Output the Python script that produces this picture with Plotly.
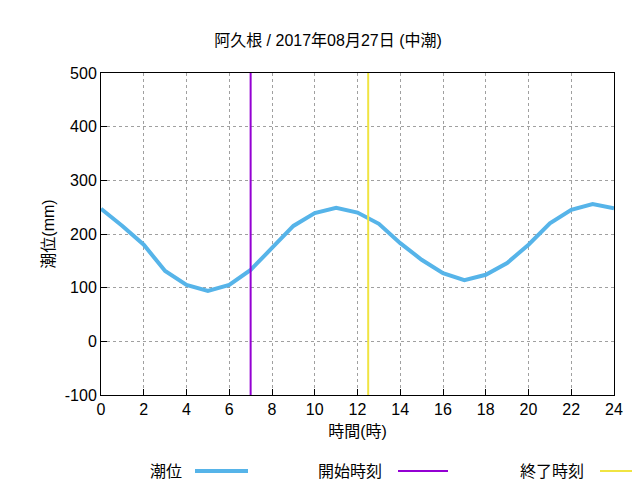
import plotly.graph_objects as go

hours = list(range(25))
tide = [247, 215, 180, 131, 105, 94, 105, 133, 174, 215, 239, 249, 240, 219, 183, 152, 127, 114, 124, 146, 180, 220, 245, 256, 248]
start_time = 7
end_time = 12.5
title = "阿久根 / 2017年08月27日 (中潮)"
labels = ["潮位", "開始時刻", "終了時刻"]
colors = ["#56B4E9", "#9400D3", "#F0E442"]
ytick_vals = list(range(-100, 501, 100))
ytick_text = [str(v).replace("−", "-") for v in ytick_vals]

F = "Liberation Sans, Noto Sans CJK JP"
fig = go.Figure()
fig.add_trace(go.Scatter(x=hours, y=tide, mode="lines", line=dict(color=colors[0], width=4), showlegend=False))
fig.add_trace(go.Scatter(x=[start_time, start_time], y=[-100, 500], mode="lines", line=dict(color=colors[1], width=2), showlegend=False))
fig.add_trace(go.Scatter(x=[end_time, end_time], y=[-100, 500], mode="lines", line=dict(color=colors[2], width=2), showlegend=False))

def px2x(p): return (p - 93) / 513
def py2y(p): return (387 - p) / 322

shapes = []
annotations = []
legend_pos = [(176, 187, 240), (376, 390, 440), (578, 592, 640)]
for lab, col, (tx, s0, s1) in zip(labels, colors, legend_pos):
    annotations.append(dict(x=px2x(tx), y=py2y(463), xref="paper", yref="paper", text=lab,
                            showarrow=False, xanchor="right", yanchor="middle", font=dict(size=16, family=F, color="black")))
    shapes.append(dict(type="line", xref="paper", yref="paper", x0=px2x(s0), x1=px2x(s1),
                       y0=py2y(463), y1=py2y(463), line=dict(color=col, width=4 if col == colors[0] else 2)))

axis = dict(showline=True, linecolor="black", mirror=True, showgrid=True, gridcolor="#a0a0a0",
            griddash="dot", gridwidth=1, zeroline=False, ticks="inside", tickcolor="black", ticklen=6,
            automargin=False, tickfont=dict(size=16, family=F, color="black"))
fig.update_layout(
    width=640, height=480, plot_bgcolor="white", paper_bgcolor="white",
    margin=dict(l=93, r=34, t=65, b=93),
    title=dict(text=title, x=0.5, xanchor="center", y=1 - 32 / 480, yanchor="middle",
               font=dict(size=16, family=F, color="black")),
    xaxis=dict(axis, range=[0, 24], tickvals=list(range(0, 25, 2)),
               title=dict(text="時間(時)", font=dict(size=16, family=F, color="black"), standoff=8)),
    yaxis=dict(axis, range=[-100, 500], tickvals=ytick_vals, ticktext=ytick_text,
               title=dict(text="潮位(mm)", font=dict(size=16, family=F, color="black"), standoff=6)),
    shapes=shapes, annotations=annotations,
)
fig.write_html("out.html")
